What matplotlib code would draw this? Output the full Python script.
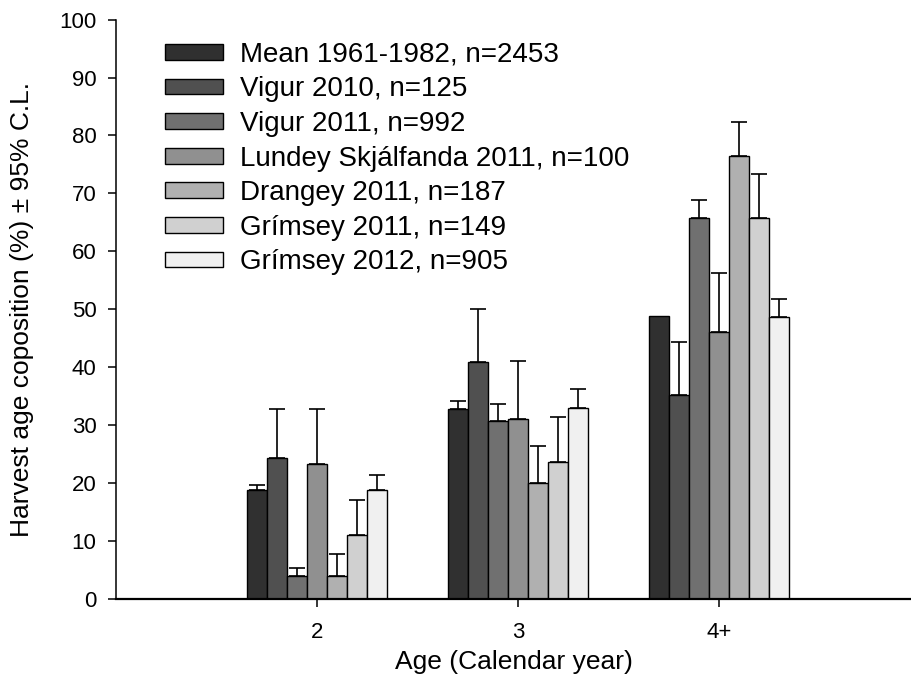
import numpy as np
import matplotlib
matplotlib.use("Agg")
import matplotlib.pyplot as plt

plt.rcParams['font.family'] = ['Liberation Sans', 'DejaVu Sans']

# age classes on the x axis
ages = ['2', '3', '4+']

# harvest samples (legend order)
samples = [
    'Mean 1961-1982, n=2453',
    'Vigur 2010, n=125',
    'Vigur 2011, n=992',
    'Lundey Skjálfanda 2011, n=100',
    'Drangey 2011, n=187',
    'Grímsey 2011, n=149',
    'Grímsey 2012, n=905',
]

# percentage of harvest per age class, one row per sample
mean_1961 = [18.7, 32.8, 48.8]
vigur_2010 = [24.3, 40.9, 35.2]
vigur_2011 = [4.0, 30.6, 65.8]
lundey_2011 = [23.2, 31.1, 46.1]
drangey_2011 = [4.0, 19.9, 76.5]
grimsey_2011 = [11.0, 23.6, 65.8]
grimsey_2012 = [18.8, 33.0, 48.6]

# upper 95% C.L. half-widths (nan = no bar drawn)
ci_mean_1961 = [1.0, 1.3, np.nan]
ci_vigur_2010 = [8.4, 9.1, 9.1]
ci_vigur_2011 = [1.3, 3.0, 3.0]
ci_lundey_2011 = [9.5, 10.0, 10.2]
ci_drangey_2011 = [3.8, 6.4, 5.9]
ci_grimsey_2011 = [6.1, 7.7, 7.6]
ci_grimsey_2012 = [2.6, 3.2, 3.2]

values = [mean_1961, vigur_2010, vigur_2011, lundey_2011,
          drangey_2011, grimsey_2011, grimsey_2012]
cis = [ci_mean_1961, ci_vigur_2010, ci_vigur_2011, ci_lundey_2011,
       ci_drangey_2011, ci_grimsey_2011, ci_grimsey_2012]

colors = ['#303030', '#505050', '#707070', '#909090',
          '#b0b0b0', '#d0d0d0', '#f0f0f0']

fig = plt.figure(figsize=(9.12, 6.95), dpi=100)
ax = fig.add_axes([0.1272, 0.1386, 0.8728, 0.8331])

x = np.arange(1, len(ages) + 1)
width = 0.1
n = len(samples)

for i, (vals, ci, col, lab) in enumerate(zip(values, cis, colors, samples)):
    pos = x + (i - (n - 1) / 2) * width
    ax.bar(pos, vals, width=width, color=col, edgecolor='black',
           linewidth=1.0, label=lab, zorder=2)
    vals = np.array(vals)
    ci = np.array(ci)
    ok = ~np.isnan(ci)
    if ok.any():
        ax.errorbar(pos[ok], vals[ok],
                    yerr=[np.zeros(ok.sum()), ci[ok]],
                    fmt='none', ecolor='black', elinewidth=1.2,
                    capsize=6, capthick=1.2, zorder=3)

ax.set_xlim(0, 3.96)
ax.set_ylim(0, 100)
ax.set_xticks(x)
ax.set_xticklabels(ages)
ax.set_yticks(np.arange(0, 101, 10))

for s in ['top', 'right']:
    ax.spines[s].set_visible(False)
ax.spines['left'].set_linewidth(1.1)
ax.spines['bottom'].set_linewidth(1.6)
ax.tick_params(direction='out', length=6, width=1.1, labelsize=16,
               colors='black')
ax.tick_params(axis='y', pad=8)
ax.tick_params(axis='x', pad=11)

ax.set_xlabel('Age (Calendar year)', fontsize=19, labelpad=5)
ax.set_ylabel('Harvest age coposition (%) \u00b1 95% C.L.', fontsize=19,
              labelpad=18)

ax.legend(loc='upper left', bbox_to_anchor=(0.0616, 0.962), frameon=False,
          fontsize=20, handlelength=2.1, handleheight=0.5,
          labelspacing=0.31, handletextpad=0.6, borderaxespad=0,
          borderpad=0)

fig.savefig('out.png', dpi=100)
